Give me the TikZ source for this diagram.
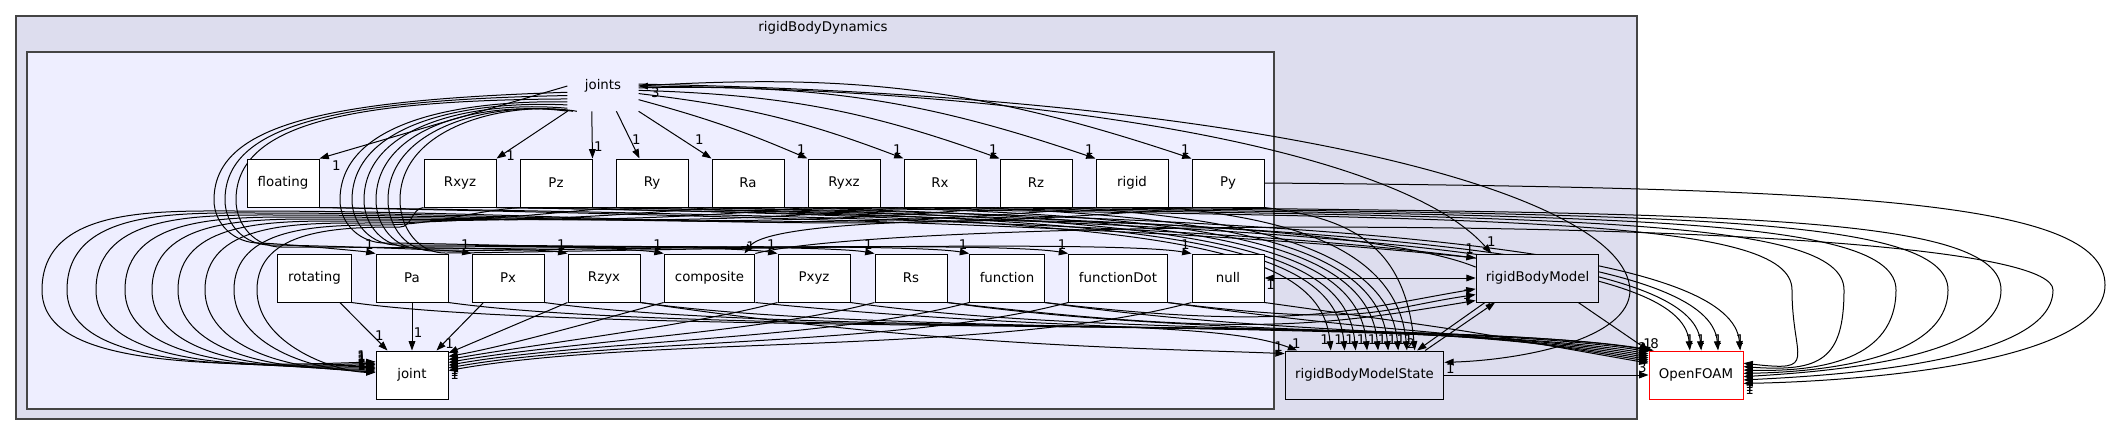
\documentclass[tikz,border=0pt]{standalone}
\usepackage{fontspec}
\setmainfont{DejaVu Sans}
\usetikzlibrary{arrows.meta}

\definecolor{dirout}{HTML}{DDDDEE}
\definecolor{dirin}{HTML}{EEEEFF}
\definecolor{dirline}{HTML}{444444}

\pgfdeclarelayer{back}
\pgfdeclarelayer{wires}
\pgfsetlayers{back,wires,main}

\begin{document}
\begin{tikzpicture}[
  x=0.75pt, y=0.75pt,
  font=\fontsize{10}{12}\selectfont,
  dirbox/.style={draw, fill=white, line width=0.75pt, minimum width=54pt, minimum height=36pt, inner sep=2pt},
  extbox/.style={dirbox, fill=dirout},
  dep/.style={-{Triangle[length=7pt,width=5pt]}, line width=0.75pt},
  twoway/.style={{Triangle[length=7pt,width=5pt]}-{Triangle[length=7pt,width=5pt]}, line width=0.75pt},
  num/.style={inner sep=1pt}
]
\useasboundingbox (0,0) rectangle (2113,-436);

% clusters
\begin{pgfonlayer}{back}
  \fill[white] (0,0) rectangle (2113,-436);
  \draw[dirline, fill=dirout, line width=1pt] (16,-16) rectangle (1637,-419);
  \draw[dirline, fill=dirin, line width=1pt] (27,-52) rectangle (1274,-409);
\end{pgfonlayer}
\node (rbd) at (823,-28) {rigidBodyDynamics};
\node (joints) [minimum width=53pt, minimum height=37.5pt, inner sep=0pt] at (603,-86) {joints};

% top row
\foreach \n/\x in {floating/283, Rxyz/460, Pz/556, Ry/652, Ra/748, Ryxz/844, Rx/940, Rz/1036, rigid/1132, Py/1228}
  \node[dirbox] (\n) at (\x,-183) {\n};

% second row
\node[dirbox, minimum width=55pt] (rotating) at (314.5,-278) {rotating};
\foreach \n/\x in {Pa/412, Px/508, Rzyx/604, Pxyz/814, Rs/911, null/1228}
  \node[dirbox] (\n) at (\x,-278) {\n};
\node[dirbox, minimum width=68pt] (composite) at (709.5,-278) {composite};
\node[dirbox, minimum width=56pt] (function) at (1007,-278) {function};
\node[dirbox, minimum width=74pt] (functionDot) at (1118,-278) {functionDot};

% bottom
\node[dirbox] (joint) at (412,-375) {joint};
\node[extbox, minimum width=92pt] (rbm) at (1537.5,-278) {rigidBodyModel};
\node[extbox, minimum width=119pt] (rbms) at (1364.5,-375) {rigidBodyModelState};
\node[dirbox, draw=red, minimum width=70.5pt] (foam) at (1696,-375) {OpenFOAM};

\begin{pgfonlayer}{wires}
% joints to the top row
\draw[dep] (joints.west) -- (floating.north east) node[num, at end, anchor=north west, xshift=8pt] {1};
\draw[dep] (joints.south west) -- (Rxyz.north east) node[num, at end, anchor=west, xshift=6pt, yshift=2pt] {1};
\draw[dep] (joints.246) -- (Pz.north east) node[num, pos=0.75, right] {1};
\draw[dep] (joints.298) -- (Ry.117) node[num, pos=0.6, right] {1};
\draw[dep] (joints.south east) -- (Ra.north west) node[num, pos=0.75, above right] {1};
\foreach \n/\s/\b in {Ryxz/-21/4, Rx/-12/7, Rz/-7/9, rigid/-3/10, Py/0/11}
  \draw[dep] (joints.\s) to[bend left=\b] node[num, at end, above left, yshift=2pt] {1} (\n.north west);

% joints to the second row
\foreach \n/\ang/\lx/\ly in {Pa/190/214/243, Px/195/225/245, Rzyx/200/236/247, composite/204/340/243, Pxyz/208/352/245, Rs/212/364/247, function/216/376/249, functionDot/220/388/251, null/224/400/253}
  \draw[dep] (joints.\ang) .. controls (\lx+110,-100) and (\lx,-125) .. (\lx,-200)
    to[out=-90,in=180] (\lx+45,-\ly) to[out=0,in=170,looseness=0.3]
    node[num, at end, above left, yshift=2pt] {1} (\n.north west);

% top row to joint
\foreach \n/\wx/\lx/\ty/\ang in {Rxyz/400/257/227/176, Pz/380/234/225/174, Ry/360/205/223/172, Ra/340/178/221/170, Ryxz/320/152/219/168, Rx/300/125/217/166, Rz/280/96/215/164, rigid/260/67/213/162, Py/240/42/211/160}
{
  \draw[dep] (\n.south west) to[out=185,in=0] (\wx,-\ty) to[out=180,in=90] (\lx,-290)
    .. controls (\lx,-345) and (\lx+80,-372) .. (joint.\ang);
  \node[num, anchor=south east, xshift=-6pt] at (joint.\ang) {1};
}

% second row to joint
\draw[dep] (rotating.-44) -- (joint.135) node[num, pos=0.7, right] {1};
\draw[dep] (Pa) -- (joint) node[num, pos=0.62, right] {1};
\draw[dep] (Px.-135) -- (joint.45) node[num, pos=0.85, right] {1};
\draw[dep] (Rzyx.south west) -- (joint.31) node[num, at end, right, yshift=-3pt] {1};
\foreach \n/\ang in {composite/27, Pxyz/23, Rs/19, function/15, functionDot/11, null/7}
  \draw[dep] (\n.south west) to[out=-165,in=10,looseness=0.7]
    node[num, at end, right, yshift=-3pt] {1} (joint.\ang);

% top row to rigidBodyModelState
\foreach \n/\c/\ang in {Rxyz/656/144, Pz/573/129, Ry/488/110, Ra/403/84, Ryxz/318/61, Rx/232/46, Rz/145/36, rigid/100/30, Py/80/26}
  \draw[dep] (\n.south east) .. controls +(\c,-10) and +(-10,110) .. (rbms.\ang) node[num, at end, above left, yshift=3pt] {1};

% top row to OpenFOAM
\foreach \n/\tx/\by/\ang in {floating/1690/222/104, Rxyz/1701/221/78, Pz/1718/220/48, Ry/1740/219/29}
  \draw[dep] (\n.south east) .. controls (\tx-300,-\by) and +(-8,90) .. (foam.\ang) node[num, at end, above, yshift=3pt] {1};
\foreach \n/\px/\by/\ang in {Ra/1792/218/14, Ryxz/1844/217/10, Rx/1896/216/6, Rz/1948/215/2, rigid/2001/214/-2}
  \draw[dep] (\n.south east) .. controls (\px-280,-\by) and (\px,-\by) .. (\px,-290)
    .. controls (\px,-360) and (1820,-372) .. (foam.\ang) node[num, at end, anchor=north west] {1};
\draw[dep] (composite.north east) .. controls (900,-215) and (2053,-212) .. (2053,-290)
  .. controls (2053,-365) and (1820,-376) .. (foam.-6) node[num, at end, anchor=north west] {1};
\draw[dep] (Py.east) .. controls (1850,-188) and (2105,-200) .. (2105,-285)
  .. controls (2105,-368) and (1830,-382) .. (foam.-10) node[num, at end, anchor=north west] {1};

% second row to OpenFOAM, rigidBodyModelState and rigidBodyModel
\foreach \n/\ang/\lab in {rotating/150/1, Pa/152/, Px/154/, Rzyx/156/2, Pxyz/158/, Rs/160/, function/162/, functionDot/164/, null/166/}
  \draw[dep] (\n.south east) .. controls +(250,-35) and +(-200,35) .. (foam.\ang) node[num, at end, above left] {\lab};
\draw[dep] (Rzyx.south east) .. controls +(300,-45) and +(-120,5) .. (rbms.165) node[num, at end, above left] {1};
\draw[dep] (composite.south east) .. controls +(300,-30) and +(-80,30) .. (rbms.160) node[num, at end, above left, xshift=4pt] {1};
\draw[dep] (function.south east) .. controls +(250,-30) and +(-120,-20) .. (rbm.190);
\draw[dep] (functionDot.south east) .. controls +(200,-25) and +(-100,-15) .. (rbm.195) node[num, at end, left, xshift=-2pt] {1};
\draw[dep] (Rs.south east) .. controls +(300,-35) and +(-150,-25) .. (rbm.200);
\draw[dep] (floating.south east) .. controls (1100,-222) and +(-150,15) .. (rbm.162) node[num, at end, above left, yshift=2pt] {1};

% rigidBodyModel and rigidBodyModelState
\draw[twoway] (joints.east) .. controls (1050,-90) and (1400,-150) .. (rbm.152)
  node[num, at start, anchor=north west, xshift=8pt] {3} node[num, at end, above=4pt] {1};
\draw[dep] (joints.3) .. controls (1250,-95) and (1625,-190) .. (1630,-290)
  .. controls (1630,-340) and (1520,-360) .. (rbms.9) node[num, at end, below right] {1};
\draw[dep] (rbm.170) .. controls (1350,-215) and (780,-205) .. (composite.35) node[num, at end, above right] {1};
\draw[twoway] (rbm.west) -- (null.east) node[num, at end, below right] {1};
\draw[dep] (rbm.-155) -- (rbms.25) node[num, at end, above left] {2};
\draw[dep] (rbms.22) -- (rbm.-150) node[num, at end, left] {1};
\draw[dep] (rbm.-31) -- (foam.north west) node[num, at end, above right] {8};
\draw[dep] (rbms) -- (foam) node[num, at end, above left] {3};
\end{pgfonlayer}
\end{tikzpicture}
\end{document}
